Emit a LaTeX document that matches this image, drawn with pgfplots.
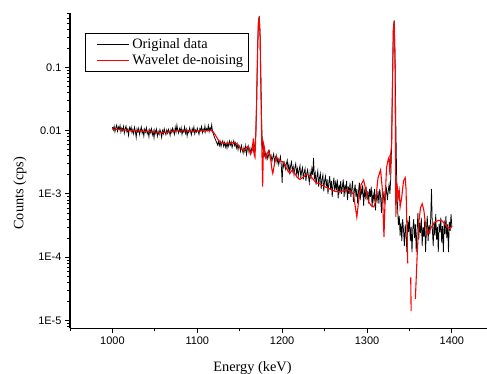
\documentclass[border=0pt]{standalone}
\usepackage{pgfplots}
\pgfplotsset{compat=1.18}
\usepackage{fontspec}
\setmainfont{Liberation Serif}
\newfontfamily\arialf{Liberation Sans}
\begin{document}
\begin{tikzpicture}
\useasboundingbox (-70bp,-45.3bp) rectangle (417bp,328.2bp);
\begin{axis}[
 at={(0,0)}, anchor=south west,
 scale only axis, width=417bp, height=314.9bp,
 ymode=log, xmin=950, xmax=1441.4, ymin=7.55e-6, ymax=0.713,
 unbounded coords=jump,
 axis x line*=bottom, axis y line*=left,
 axis line style={line width=1.1pt},
 tick align=outside, major tick length=5bp, minor tick length=3bp,
 every tick/.style={black, line width=0.8pt},
 xtick={1000,1100,1200,1300,1400}, xticklabels={1000,1100,1200,1300,1400},
 minor xtick={950,1050,1150,1250,1350},
 ytick={1e-5,1e-4,1e-3,1e-2,1e-1}, yticklabels={1E-5,1E-4,1E-3,0.01,0.1},
 minor ytick={8e-6,9e-6,2e-5,3e-5,4e-5,5e-5,6e-5,7e-5,8e-5,9e-5,2e-4,3e-4,4e-4,5e-4,6e-4,7e-4,8e-4,9e-4,2e-3,3e-3,4e-3,5e-3,6e-3,7e-3,8e-3,9e-3,2e-2,3e-2,4e-2,5e-2,6e-2,7e-2,8e-2,9e-2,0.2,0.3,0.4,0.5,0.6,0.7},
 ticklabel style={font=\arialf\fontsize{11}{13}\selectfont},
 xlabel={Energy (keV)}, ylabel={Counts (cps)},
 label style={font=\fontsize{14.4}{16}\selectfont},
 xlabel style={at={(axis description cs:0.4376,-0.1375)}, anchor=base},
 ylabel style={at={(axis description cs:-0.12,0.429)}, anchor=center},
 legend style={at={(axis description cs:0.036,0.9374)}, anchor=north west, draw=black, line width=0.7pt, font=\fontsize{14.4}{16}\selectfont, inner xsep=2.5bp, inner ysep=3.5bp, row sep=2bp, fill=white, nodes={inner xsep=2.5bp, inner ysep=1.5bp}},
 legend cell align=left,
 legend image code/.code={\path[draw=none,fill=none] (0bp,-3bp) rectangle (42bp,3bp); \draw[#1] (9bp,0bp) -- (41bp,0bp);},
]
\addplot[black, line width=0.75pt] coordinates {
(1000,.0113)(1001,.0102)(1002,.0118)(1003,.0096)(1004,.0111)(1005,.0122)(1006,.0098)(1007,.0114)(1008,.0105)(1009,.0120)
(1010,.0095)(1011,.0109)(1012,.0100)(1013,.0116)(1014,.0091)(1015,.0107)(1016,.0118)(1017,.0096)(1018,.0105)(1019,.0084)
(1020,.0111)(1021,.0100)(1022,.0114)(1023,.0093)(1024,.0104)(1025,.0089)(1026,.0113)(1027,.0098)(1028,.0078)(1029,.0107)
(1030,.0095)(1031,.0109)(1032,.0087)(1033,.0100)(1034,.0114)(1035,.0091)(1036,.0102)(1037,.0082)(1038,.0105)(1039,.0095)
(1040,.0111)(1041,.0089)(1042,.0100)(1043,.0080)(1044,.0104)(1045,.0093)(1046,.0107)(1047,.0086)(1048,.0098)(1049,.0077)
(1050,.0102)(1051,.0091)(1052,.0105)(1053,.0082)(1054,.0096)(1055,.0087)(1056,.0104)(1057,.0093)(1058,.0078)(1059,.0100)
(1060,.0089)(1061,.0107)(1062,.0095)(1063,.0086)(1064,.0102)(1065,.0091)(1066,.0105)(1067,.0096)(1068,.0084)(1069,.0104)
(1070,.0093)(1071,.0109)(1072,.0098)(1073,.0087)(1074,.0113)(1075,.0095)(1076,.0122)(1077,.0100)(1078,.0091)(1079,.0107)
(1080,.0096)(1081,.0111)(1082,.0087)(1083,.0102)(1084,.0095)(1085,.0114)(1086,.0091)(1087,.0105)(1088,.0082)(1089,.0100)
(1090,.0093)(1091,.0111)(1092,.0098)(1093,.0086)(1094,.0107)(1095,.0096)(1096,.0114)(1097,.0089)(1098,.0102)(1099,.0095)
(1100,.0109)(1101,.0098)(1102,.0087)(1103,.0107)(1104,.0100)(1105,.0116)(1106,.0093)(1107,.0105)(1108,.0096)(1109,.0118)
(1110,.0095)(1111,.0107)(1112,.0100)(1113,.0120)(1114,.0096)(1115,.0111)(1116,.0102)(1117,.0123)(1118,.0095)(1119,.0088)
(1120,.0080)(1121,.0074)(1122,.0069)(1123,.0064)(1124,.0059)(1125,.0068)(1126,.0058)(1127,.0067)(1128,.0056)(1129,.0064)
(1130,.0069)(1131,.0057)(1132,.0065)(1133,.0055)(1134,.0063)(1135,.0053)(1136,.0065)(1137,.0057)(1138,.0068)(1139,.0059)
(1140,.0066)(1141,.0054)(1142,.0061)(1143,.0069)(1144,.0058)(1145,.0064)(1146,.0053)(1147,.0061)(1148,.0050)(1149,.0059)
(1150,.0055)(1151,.0047)(1152,.0058)(1153,.0050)(1154,.0044)(1155,.0054)(1156,.0047)(1157,.0057)(1158,.0042)(1159,.0051)
(1160,.0057)(1161,.0045)(1162,.0053)(1163,.0043)(1164,.0051)(1165,.0059)(1166,.0047)(1167,.0054)(1168,.0062)(1169,.0090)
(1170,.035)(1171,.18)(1172,.52)(1173,.65)(1174,.34)(1175,.060)(1176,.0110)(1177,.0052)(1178,.0047)(1179,.0040)
(1180,.0045)(1181,.0038)(1182,.0043)(1183,.0036)(1184,.0041)(1185,.0047)(1186,.0035)(1187,.0040)(1188,.0033)(1189,.0038)
(1190,.0043)(1191,.0032)(1192,.0037)(1193,.0041)(1194,.0031)(1195,.0036)(1196,.0029)(1197,.0034)(1198,.0039)(1199,.0028)
(1200,.0015)(1201,.0033)(1202,.0027)(1203,.0031)(1204,.0025)(1205,.0030)(1206,.0034)(1207,.0024)(1208,.0029)(1209,.0022)
(1210,.0028)(1211,.0032)(1212,.0023)(1213,.0027)(1214,.0020)(1215,.0026)(1216,.0030)(1217,.0021)(1218,.0025)(1219,.0019)
(1220,.0024)(1221,.0028)(1222,.0018)(1223,.0023)(1224,.0026)(1225,.0017)(1226,.0022)(1227,.0025)(1228,.0016)(1229,.0021)
(1230,.0024)(1231,.0019)(1232,.0015)(1233,.0022)(1234,.0018)(1235,.0025)(1236,.0020)(1237,.0037)(1238,.0017)(1239,.0021)
(1240,.0014)(1241,.0019)(1242,.0023)(1243,.0013)(1244,.0018)(1245,.0021)(1246,.0012)(1247,.0017)(1248,.0020)(1249,.0011)
(1250,.0016)(1251,.0019)(1252,.0013)(1253,.0017)(1254,.0010)(1255,.0015)(1256,.0019)(1257,.0012)(1258,.0016)(1259,.0009)
(1260,.0014)(1261,.0018)(1262,.0011)(1263,.0015)(1264,.0012)(1265,.0017)(1266,.00085)(1267,.0014)(1268,.0011)(1269,.0016)
(1270,.0010)(1271,.0013)(1272,.0017)(1273,.0009)(1274,.0014)(1275,.0011)(1276,.0016)(1277,.00080)(1278,.0013)(1279,.0010)
(1280,.0015)(1281,.0009)(1282,.0012)(1283,.0016)(1284,.00075)(1285,.0011)(1286,.0014)(1287,.0009)(1288,.0012)(1289,.00070)
(1290,.0011)(1291,.0015)(1292,.0008)(1293,.0012)(1294,.0010)(1295,.0014)(1296,.00065)(1297,.0011)(1298,.0009)(1299,.0013)
(1300,.0008)(1301,.0011)(1302,.0007)(1303,.0012)(1304,.0009)(1305,.0013)(1306,.00062)(1307,.0010)(1308,.0008)(1309,.0012)
(1310,.00055)(1311,.0010)(1312,.0008)(1313,.0011)(1314,.0007)(1315,.0012)(1316,.0009)(1317,.00050)(1318,.0010)(1319,.0008)
(1320,.0011)(1321,.0007)(1322,.0010)(1323,.0012)(1324,.0008)(1325,.0011)(1326,.0014)(1327,.0010)(1328,.0018)(1329,.0060)
(1330,.060)(1331,.38)(1332,.55)(1333,.16)(1334,.012)(1335,.0016)(1336,.00060)(1337,.00032)(1338,.00045)(1339,.00022)
(1340,.00035)(1341,.00018)(1342,.00040)(1343,.00027)(1344,.00015)(1345,.00033)(1346,.00022)(1347,.00012)(1348,.00038)(1349,.00025)
(1350,.00045)(1351,.00018)(1352,.00030)(1353,.00012)(1354,.00028)(1355,.00040)(1356,.00020)(1357,.00033)(1358,.00012)(1359,.00027)
(1360,.00050)(1361,.00019)(1362,.00035)(1363,.00024)(1364,.00042)(1365,.00015)(1366,.00030)(1367,.00021)(1368,.00038)(1369,.00012)
(1370,.00027)(1371,.00045)(1372,.00018)(1373,.00032)(1374,.00023)(1375,.00040)(1376,.00120)(1377,.00028)(1378,.00015)(1379,.00036)
(1380,.00022)(1381,.00048)(1382,.00019)(1383,.00030)(1384,.00012)(1385,.00034)(1386,.00025)(1387,.00042)(1388,.00017)(1389,.00031)
(1390,.00012)(1391,.00038)(1392,.00023)(1393,.00045)(1394,.00020)(1395,.00033)(1396,.00012)(1397,.00036)(1398,.00026)(1399,.00048)
(1400,.00030)
};
\addlegendentry{Original data}
\addplot[red, line width=1.1pt] coordinates {
(1000,.0106)(1010,.0103)(1020,.0101)(1030,.0099)(1040,.0097)(1048,.0095)(1055,.0094)(1065,.0094)(1075,.0099)(1085,.0099)
(1095,.0098)(1105,.0099)(1112,.0101)(1116,.0101)(1119,.0095)(1122,.0082)(1125,.0070)(1128,.0065)(1132,.0063)(1137,.0062)
(1141,.0064)(1144,.0065)(1147,.0061)(1150,.0055)(1153,.0050)(1155,.0048)(1157,.0052)(1159,.0056)(1161,.0052)(1163,.0043)
(1165,.0050)(1166,.0075)(1167,.0042)(1168,.0038)(1169,.0090)(1170,.030)(1171,.16)(1172,.50)(1173,.62)(1174,.30)
(1175,.040)(1176,.0060)(1177,.0013)(1178,.0063)(1179,.0055)(1180,.0040)(1181,.0036)(1182,.0042)(1184,.0048)(1186,.0040)
(1188,.0024)(1189,.0021)(1191,.0030)(1193,.0038)(1195,.0036)(1197,.0033)(1199,.0033)(1201,.0032)(1203,.0029)(1206,.0024)
(1209,.0021)(1211,.0023)(1213,.0024)(1215,.0021)(1218,.0018)(1221,.0017)(1224,.0018)(1228,.0020)(1231,.0020)(1235,.0018)
(1240,.0015)(1244,.00145)(1250,.00130)(1256,.00120)(1262,.00110)(1268,.00107)(1272,.00112)(1276,.00117)(1280,.00112)(1284,.00100)
(1286,.00065)(1288,.00043)(1290,.00075)(1293,.00140)(1296,.00165)(1299,.00110)(1302,.00075)(1305,.00065)(1308,.00062)(1310,.00075)
(1313,.0018)(1316,.0024)(1318,.0012)(1320,.00021)(1321,.00060)(1323,.0026)(1325,.0035)(1326,.0038)(1327,.0020)(1328,.0044)
(1329,.0060)(1330,.05)(1331,.40)(1332,.53)(1333,.12)(1334,.00043)(1335,.0015)(1336,.0012)(1337,.0009)(1338,.0011)
(1339,.00062)(1341,.0009)(1343,.0016)(1345,.0018)(1346,.0012)(1347,.00030)(1348,.00008)(1349,nan)(1351.5,.000048)(1352,.000014)
(1354,nan)(1357,.000022)(1359,.0001)(1361,.00035)(1363,.00060)(1365,.00070)(1367,.00055)(1369,.00032)(1371,.00023)(1373,.00025)
(1376,.00030)(1380,.00036)(1384,.00038)(1388,.00038)(1392,.00033)(1396,.00029)(1398,.00028)(1400,.00031)
};
\addlegendentry{Wavelet de-noising}
\end{axis}
\end{tikzpicture}
\end{document}
